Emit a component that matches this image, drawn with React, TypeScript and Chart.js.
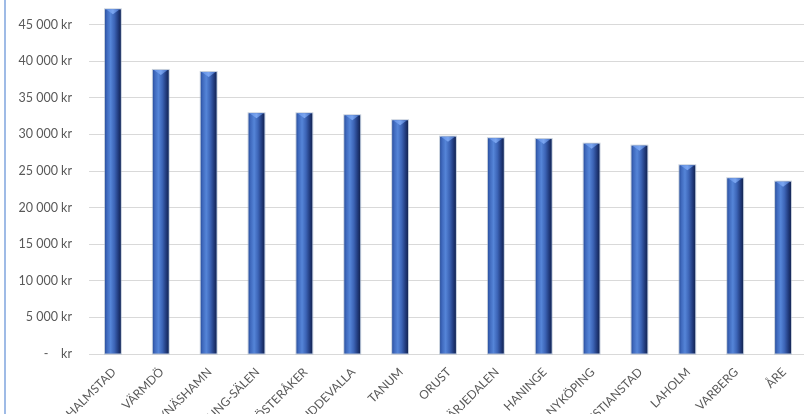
import React, { useEffect, useRef } from "react";
import { Chart, registerables } from "chart.js";

Chart.register(...registerables);

const categories = [
  "HALMSTAD", "VÄRMDÖ", "NYNÄSHAMN", "MALUNG-SÄLEN", "ÖSTERÅKER", "UDDEVALLA", "TANUM",
  "ORUST", "HÄRJEDALEN", "HANINGE", "NYKÖPING", "KRISTIANSTAD", "LAHOLM", "VARBERG", "ÅRE",
];
const values = [
  47080, 38800, 38520, 32880, 32880, 32610, 31930,
  29690, 29470, 29370, 28730, 28460, 25780, 24000, 23540,
];
const yMin = 0;
const yMax = 50000;
const yStep = 5000;

function formatKr(v: number): string {
  if (v === 0) return "-    kr";
  const s = Math.round(v).toString().replace(/\B(?=(\d{3})+(?!\d))/g, " ");
  return s + " kr";
}

const cylinderPlugin = {
  id: "cylinder",
  afterDatasetsDraw(chart: any) {
    const ctx = chart.ctx;
    const meta = chart.getDatasetMeta(0);
    ctx.save();
    meta.data.forEach((el: any) => {
      const { x, y, base, width } = el.getProps(["x", "y", "base", "width"], true);
      const l = x - width / 2;
      const r = x + width / 2;
      const g = ctx.createLinearGradient(l, 0, r, 0);
      g.addColorStop(0, "#2b51a0");
      g.addColorStop(0.12, "#3f69bd");
      g.addColorStop(0.35, "#5585d8");
      g.addColorStop(0.6, "#3c64b6");
      g.addColorStop(0.85, "#20397a");
      g.addColorStop(1, "#142552");
      ctx.fillStyle = g;
      ctx.fillRect(l, y, width, base - y);
      ctx.strokeStyle = "rgba(150,165,190,0.55)";
      ctx.lineWidth = 1;
      ctx.strokeRect(l - 0.5, y - 0.5, width + 1, base - y + 1);
      const tg = ctx.createLinearGradient(l, 0, r, 0);
      tg.addColorStop(0, "#5b8ae0");
      tg.addColorStop(0.5, "#7aa5f0");
      tg.addColorStop(1, "#3a62b4");
      ctx.fillStyle = tg;
      ctx.beginPath();
      ctx.moveTo(l + 1, y);
      ctx.lineTo(r - 1, y);
      ctx.lineTo(x, y + 5);
      ctx.closePath();
      ctx.fill();
    });
    ctx.restore();
  },
  afterDraw(chart: any) {
    const ctx = chart.ctx;
    ctx.save();
    ctx.strokeStyle = "#7fa5de";
    ctx.lineWidth = 1.5;
    ctx.beginPath();
    ctx.moveTo(5, 0);
    ctx.lineTo(5, chart.height);
    ctx.stroke();
    ctx.restore();
  },
};

export default function App() {
  const ref = useRef<HTMLCanvasElement | null>(null);
  useEffect(() => {
    if (!ref.current) return;
    const chart = new Chart(ref.current, {
      type: "bar",
      data: {
        labels: categories,
        datasets: [
          {
            data: values,
            backgroundColor: "#3a63b5",
            borderWidth: 0,
            barPercentage: 0.33,
            categoryPercentage: 1,
          },
        ],
      },
      options: {
        animation: false,
        responsive: false,
        devicePixelRatio: 1,
        layout: { padding: 0 },
        plugins: { legend: { display: false }, tooltip: { enabled: false } },
        scales: {
          x: {
            afterFit: (s: any) => {
              s.height = 60;
              s.paddingLeft = 0;
              s.paddingRight = 0;
            },
            grid: { display: false, drawTicks: false },
            border: { display: true, color: "#d9d9d9", width: 1 },
            ticks: {
              autoSkip: false,
              minRotation: 45,
              maxRotation: 45,
              padding: 11,
              labelOffset: 1,
              color: "#595959",
              font: { family: "Lato, 'Open Sans', sans-serif", size: 12 },
            },
          },
          y: {
            min: yMin,
            max: yMax,
            afterFit: (s: any) => {
              s.width = 89;
              s.paddingTop = 0;
              s.paddingBottom = 0;
            },
            grid: { color: "#d9d9d9", lineWidth: 1, drawTicks: false },
            border: { display: false },
            ticks: {
              stepSize: yStep,
              padding: 17,
              color: "#595959",
              font: { family: "Lato, 'Open Sans', sans-serif", size: 12.5 },
              callback: (v: any) => formatKr(Number(v)),
            },
          },
        },
      },
      plugins: [cylinderPlugin],
    });
    return () => chart.destroy();
  }, []);
  return (
    <div style={{ position: "fixed", left: 0, top: 0, width: 804, height: 414, overflow: "hidden", background: "#fff" }}>
      <canvas ref={ref} width={807} height={426} style={{ position: "absolute", left: 0, top: -12, width: 807, height: 426 }} />
    </div>
  );
}
